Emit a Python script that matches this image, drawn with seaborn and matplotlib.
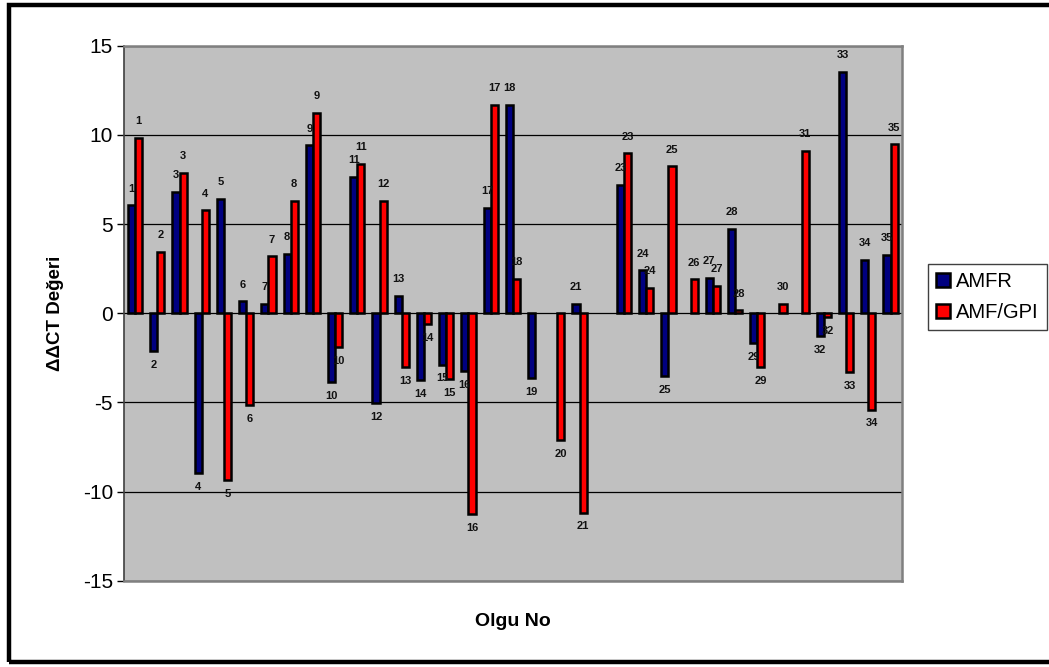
import numpy as np
import pandas as pd
import matplotlib
matplotlib.use("Agg")
import matplotlib.pyplot as plt
import seaborn as sns
from matplotlib.patches import Rectangle

nan = np.nan
cases = [str(i) for i in range(1, 36)]
series = ["AMFR", "AMF/GPI"]
amfr = [6.04, -2.14, 6.82, -8.94, 6.42, 0.66, 0.54, 3.34, 9.42, -3.86,
        7.64, -5.04, 0.96, -3.74, -2.88, -3.24, 5.9, 11.7, -3.64, nan,
        0.54, nan, 7.2, 2.4, -3.5, nan, 2.0, 4.72, -1.68, nan,
        nan, -1.3, 13.52, 3.0, 3.26]
amf_gpi = [9.82, 3.44, 7.86, 5.76, -9.38, -5.14, 3.18, 6.3, 11.22, -1.92,
           8.36, 6.3, -3.0, -0.6, -3.7, -11.28, 11.7, 1.94, nan, -7.1,
           -11.18, nan, 8.96, 1.42, 8.24, 1.9, 1.52, 0.16, -3.0, 0.54,
           9.12, -0.2, -3.3, -5.4, 9.46]
colors = ["#000080", "#FF0000"]
y_ticks = [-15, -10, -5, 0, 5, 10, 15]

plt.rcParams["font.family"] = ["Liberation Sans", "DejaVu Sans"]

df = pd.DataFrame({
    "Olgu": cases * 2,
    "seri": [series[0]] * len(cases) + [series[1]] * len(cases),
    "deger": amfr + amf_gpi,
}).dropna()

W, H = 1049, 667
fig = plt.figure(figsize=(W / 100, H / 100), dpi=100)
fig.patch.set_facecolor("white")
left, right, top, bottom = 124, 901.7, 45.7, 580.7
ax = fig.add_axes([left / W, 1 - bottom / H, (right - left) / W, (bottom - top) / H])
ax.set_facecolor("#C0C0C0")

sns.barplot(data=df, x="Olgu", y="deger", hue="seri", order=cases,
            hue_order=series, palette=colors, saturation=1, width=0.64,
            errorbar=None, edgecolor="black", linewidth=1.8, ax=ax)

# data labels: case number above/below each bar
for cont in ax.containers:
    for bar in cont:
        h = bar.get_height()
        if h is None or np.isnan(h):
            continue
        xc = bar.get_x() + bar.get_width() / 2
        lab = cases[int(round(xc))]
        off = 12 if h >= 0 else -10
        ax.annotate(lab, (xc, h), xytext=(0, off), textcoords="offset points",
                    ha="center", va="center", fontsize=8, fontweight="bold",
                    color="#111111", annotation_clip=False)

ax.set_ylim(-15, 15)
ax.set_xlim(-0.5, len(cases) - 0.5)
ax.set_yticks(y_ticks)
ax.set_yticklabels([str(t) for t in y_ticks])
ax.set_xticks([])
ax.tick_params(axis="y", direction="out", length=5, width=1, color="black",
               labelsize=15, pad=3)
ax.set_axisbelow(True)
ax.yaxis.grid(True, color="black", linewidth=0.9)
ax.xaxis.grid(False)
for s in ["top", "right", "bottom"]:
    ax.spines[s].set_color("#808080")
    ax.spines[s].set_linewidth(1.8)
ax.spines["left"].set_color("#404040")
ax.spines["left"].set_linewidth(1.2)

ax.set_xlabel("Olgu No", fontsize=14, fontweight="bold", labelpad=23)
ax.set_ylabel("\u0394\u0394CT Değeri", fontsize=13.5, fontweight="bold")
ax.yaxis.set_label_coords(-60 / (right - left), 0.5)

handles, labels = ax.get_legend_handles_labels()
if ax.get_legend() is not None:
    ax.get_legend().remove()
leg = fig.legend(handles, labels, loc="upper left",
                 bbox_to_anchor=(928 / W, 1 - 264 / H), frameon=True,
                 fancybox=False, edgecolor="#404040", framealpha=1,
                 fontsize=14.5, handlelength=0.7, handleheight=0.7,
                 handletextpad=0.3, labelspacing=0.6, borderpad=0.4,
                 borderaxespad=0)
leg.get_frame().set_linewidth(1.0)

fig.add_artist(Rectangle((9 / W, 1 - 662 / H), 1.05, (662 - 5) / H,
                         transform=fig.transFigure, fill=False,
                         edgecolor="black", linewidth=3.2, clip_on=False))

fig.savefig("out.png", dpi=100)
